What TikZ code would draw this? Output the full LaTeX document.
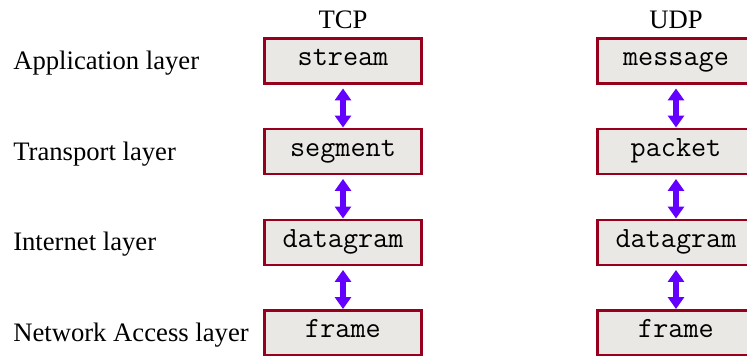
\documentclass[tikz,border=0pt]{standalone}
\usepackage{fontspec}
\setmainfont{Liberation Serif}
\usetikzlibrary{arrows.meta}
\definecolor{boxedge}{RGB}{150,0,28}
\definecolor{boxfill}{RGB}{234,232,228}
\definecolor{linkblue}{RGB}{100,0,255}
\begin{document}
\begin{tikzpicture}[x=0.75pt,y=-0.75pt,
  unitbox/.style={draw=boxedge, line width=2.2pt, fill=boxfill,
    minimum width=117.75pt, minimum height=33.75pt, inner sep=0pt,
    text height=7.5pt, text depth=0pt,
    font=\ttfamily\fontsize{22}{22}\selectfont},
  layername/.style={anchor=base west, inner sep=0pt, text=black,
    font=\fontsize{20}{20}\selectfont},
  colhead/.style={anchor=base, inner sep=0pt, font=\fontsize{20}{20}\selectfont},
  link/.style={draw=linkblue, line width=3.8pt,
    {Triangle[width=12pt,length=9pt]}-{Triangle[width=12pt,length=9pt]}}]
\useasboundingbox (0,0) rectangle (747,356);
\clip (0,0) rectangle (747,356);

% layer names
\node[layername] (lapp) at (13,69.5)  {Application layer};
\node[layername] (ltra) at (13,160.5) {Transport layer};
\node[layername] (lint) at (13,251)   {Internet layer};
\node[layername] (lnet) at (13,342)   {Network Access layer};

% column headings
\node[colhead] (tcp) at (343,29) {TCP};
\node[colhead] (udp) at (676,29) {UDP};

% TCP stack
\node[unitbox] (t1) at (343,61)    {stream};
\node[unitbox] (t2) at (343,151.5) {segment};
\node[unitbox] (t3) at (343,242.5) {datagram};
\node[unitbox] (t4) at (343,333)   {frame};

% UDP stack
\node[unitbox] (u1) at (676,61)    {message};
\node[unitbox] (u2) at (676,151.5) {packet};
\node[unitbox] (u3) at (676,242.5) {datagram};
\node[unitbox] (u4) at (676,333)   {frame};

% links between adjacent layers
\foreach \a/\b in {t1/t2,t2/t3,t3/t4,u1/u2,u2/u3,u3/u4}
  \draw[link] ([yshift=-2.6pt]\a.south) -- (\b.north);
\end{tikzpicture}
\end{document}
